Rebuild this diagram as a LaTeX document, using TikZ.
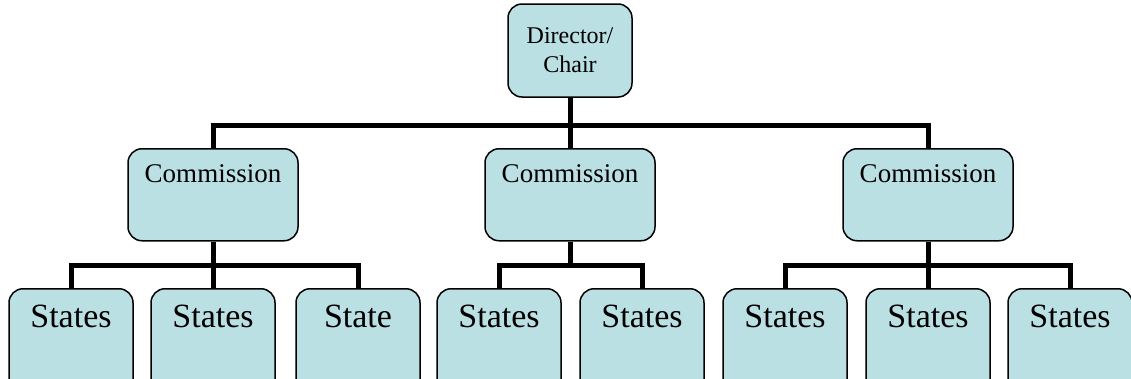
\documentclass[tikz,border=0pt]{standalone}
\usepackage{fontspec}
\setmainfont{Liberation Serif}
\definecolor{chartblue}{HTML}{BBE0E3}

\begin{document}
\begin{tikzpicture}[
  x=1pt,
  y=-1pt,
  box/.style={draw, line width=1.5pt, rounded corners=14pt, fill=chartblue, inner sep=0pt},
  head/.style={box, align=center, minimum width=124pt, minimum height=93pt, font=\fontsize{24}{29}\selectfont},
  comm/.style={box, anchor=north, minimum width=170pt, text height=34pt, text depth=58pt, font=\fontsize{27}{32}\selectfont},
  leaf/.style={box, anchor=north, minimum width=124pt, text height=39pt, text depth=73pt, font=\fontsize{34}{40}\selectfont},
  conn/.style={line width=5pt}
]

\clip (0,0) rectangle (1131,378);

\node[head] (chair) at (570,50.5) {Director/\\Chair};

\node[comm] (comA) at (213,148) {Commission};
\node[comm] (comB) at (570,148) {Commission};
\node[comm] (comC) at (928,148) {Commission};

\node[leaf] (leafA1) at (71,288) {States};
\node[leaf] (leafA2) at (213,288) {States};
\node[leaf] (leafA3) at (358,288) {State};

\node[leaf] (leafB1) at (499,288) {States};
\node[leaf] (leafB2) at (642,288) {States};

\node[leaf] (leafC1) at (785,288) {States};
\node[leaf] (leafC2) at (928,288) {States};
\node[leaf] (leafC3) at (1070,288) {States};

\coordinate (busTop) at (570,125);
\coordinate (busA) at (213,265);
\coordinate (busB) at (570,265);
\coordinate (busC) at (928,265);

\draw[conn] (chair.south) -- (busTop);
\draw[conn] (comA.north) |- (busTop) -| (comC.north);
\draw[conn] (busTop) -- (comB.north);

\draw[conn] (leafA1.north) |- (busA) -| (leafA3.north);
\draw[conn] (comA.south) -- (leafA2.north);

\draw[conn] (leafB1.north) |- (busB) -| (leafB2.north);
\draw[conn] (comB.south) -- (busB);

\draw[conn] (leafC1.north) |- (busC) -| (leafC3.north);
\draw[conn] (comC.south) -- (leafC2.north);

\end{tikzpicture}
\end{document}
